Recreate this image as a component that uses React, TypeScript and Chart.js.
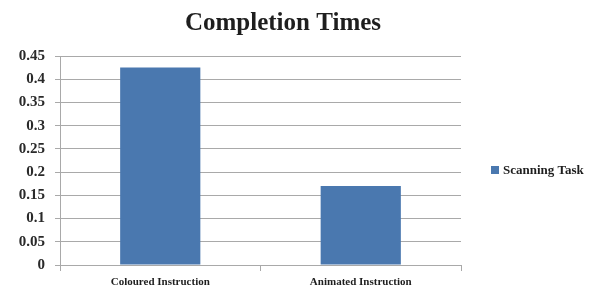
import React, { useEffect, useRef } from "react";
import { Chart, registerables } from "chart.js";

Chart.register(...registerables);

const chartTitle = "Completion Times";
const categories = ["Coloured Instruction", "Animated Instruction"];
const seriesLabel = "Scanning Task";
const seriesValues = [0.425, 0.17];
const yTicks = [0, 0.05, 0.1, 0.15, 0.2, 0.25, 0.3, 0.35, 0.4, 0.45];

const barColor = "#4a78af";
const gridColor = "#a9a9a9";
const textColor = "#1e1e1e";

const overlayPlugin = {
  id: "overlay",
  afterDraw(chart: any) {
    const ctx = chart.ctx;
    ctx.save();
    ctx.fillStyle = textColor;
    ctx.font = "bold 25px 'Liberation Serif'";
    ctx.textAlign = "center";
    ctx.textBaseline = "alphabetic";
    ctx.fillText(chartTitle, 283, 30);
    // legend
    ctx.fillStyle = barColor;
    ctx.fillRect(491, 166, 8, 8);
    ctx.fillStyle = textColor;
    ctx.font = "bold 13px 'Liberation Serif'";
    ctx.textAlign = "left";
    ctx.textBaseline = "middle";
    ctx.fillText(seriesLabel, 503, 171);
    ctx.restore();
  },
};

export default function App() {
  const ref = useRef<HTMLCanvasElement>(null);
  useEffect(() => {
    document.body.style.margin = "0";
    const chart = new Chart(ref.current!, {
      type: "bar",
      data: {
        labels: categories,
        datasets: [
          {
            label: seriesLabel,
            data: seriesValues,
            backgroundColor: barColor,
            borderWidth: 0,
            categoryPercentage: 1,
            barPercentage: 0.4,
          },
        ],
      },
      options: {
        animation: false,
        responsive: false,
        maintainAspectRatio: false,
        layout: { padding: { top: 56, right: 142, left: 0, bottom: 0 } },
        plugins: { legend: { display: false }, title: { display: false }, tooltip: { enabled: false } },
        scales: {
          x: {
            grid: { drawOnChartArea: false, color: gridColor, tickLength: 6, offset: true },
            border: { color: gridColor },
            ticks: { color: textColor, font: { family: "'Liberation Serif'", size: 11, weight: "bold" }, padding: 5, maxRotation: 0 },
            afterFit: (s: any) => { s.height = 25; },
          },
          y: {
            min: 0,
            max: 0.45,
            afterBuildTicks: (s: any) => { s.ticks = yTicks.map((v) => ({ value: v })); },
            grid: { color: gridColor, tickLength: 5 },
            border: { color: gridColor },
            ticks: {
              color: "#2a2a2a",
              font: { family: "'Liberation Serif'", size: 15, weight: "bold" },
              padding: 10,
              callback: (v: any) => String(parseFloat(Number(v).toFixed(2))),
            },
            afterFit: (s: any) => { s.width = 60; },
          },
        },
      },
      plugins: [overlayPlugin],
    });
    return () => chart.destroy();
  }, []);
  return (
    <div style={{ width: 603, height: 290 }}>
      <canvas ref={ref} width={603} height={290} style={{ display: "block" }} />
    </div>
  );
}
